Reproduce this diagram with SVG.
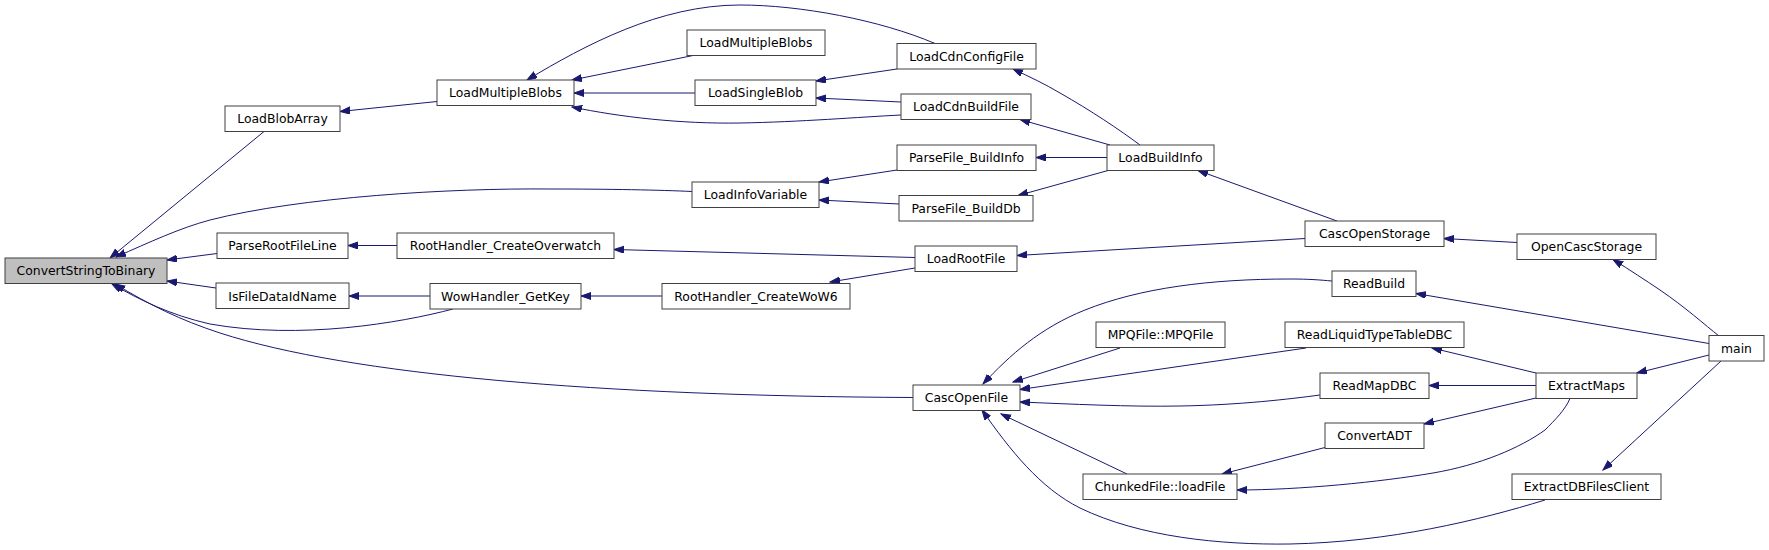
<svg xmlns="http://www.w3.org/2000/svg" width="1769" height="550" viewBox="0 0 1769 550">
<style>
.n rect{fill:#ffffff;stroke:#404040;stroke-width:1}
.n.f rect{fill:#bfbfbf}
.n text{font-family:"DejaVu Sans","Liberation Sans",sans-serif;font-size:12.4px;fill:#000;text-anchor:middle}
#edges path{fill:none;stroke:#191970;stroke-width:1;marker-start:url(#ah)}
</style>
<defs>
<marker id="ah" markerUnits="userSpaceOnUse" markerWidth="11" markerHeight="8" refX="10" refY="3.5" orient="auto-start-reverse" viewBox="0 0 11 8">
<path d="M0,0 L10,3.5 L0,7 z" fill="#191970" stroke="#191970" stroke-width="1"/>
</marker>
</defs>
<rect width="1769" height="550" fill="#ffffff"/>
<g id="edges">
<path d="M110,258 L264,131.5"/>
<path d="M116,257 C150,242 180,228 210,220 C300,197 450,188 550,189 C610,189 660,190 692,191.5"/>
<path d="M167,260 L217,253.5"/>
<path d="M167,281 L216,288"/>
<path d="M112,284 C140,300 170,315 210,324 C300,340 400,323 453,309"/>
<path d="M115,284 C150,305 180,320 220,333 C350,375 600,396 913,397.5"/>
<path d="M340,111.5 L437,101.5"/>
<path d="M572,80 L693,55.5"/>
<path d="M527,80 C585,45 660,5 740,5 C800,5 880,20 935,43.5"/>
<path d="M574,93 L695,93"/>
<path d="M572,107 C620,117 680,124 740,123 C800,122 860,117 901,115"/>
<path d="M816,81 L897,69"/>
<path d="M816,98 L901,102"/>
<path d="M819,182 L897,170"/>
<path d="M819,200 L899,204"/>
<path d="M1013,69 C1030,77 1045,84 1060,93 C1090,110 1120,130 1140,145"/>
<path d="M1020,119.5 L1110,145"/>
<path d="M1036,157.5 L1107,157.5"/>
<path d="M1018,195.5 L1108,170.5"/>
<path d="M614,249.5 L915,257.5"/>
<path d="M581,296 L662,296"/>
<path d="M349,296 L430,296"/>
<path d="M348,245.5 L397,245.5"/>
<path d="M830,282 L915,268"/>
<path d="M1198,170.5 L1337,221"/>
<path d="M1017,255.5 L1305,238.5"/>
<path d="M1444,238.5 L1517,242.5"/>
<path d="M1613,259.5 C1630,270 1645,280 1660,290 C1685,307 1705,325 1719,336"/>
<path d="M1416,293.5 L1709,343.5"/>
<path d="M983,384 C1010,355 1040,328 1085,310 C1140,288 1210,279 1290,279 C1310,279 1320,280 1332,281"/>
<path d="M1013,382 L1120,348"/>
<path d="M1020,389.5 L1306,348"/>
<path d="M1020,402 C1070,404 1130,407 1180,406 C1240,405 1290,399 1320,395"/>
<path d="M1001,414 L1127,474"/>
<path d="M982,410 C1010,450 1040,488 1080,508 C1140,537 1220,545 1290,544 C1390,542 1480,520 1545,500"/>
<path d="M1432,348 L1536,373"/>
<path d="M1429,385.5 L1536,385.5"/>
<path d="M1424,424 L1536,398"/>
<path d="M1222,474 L1325,447.5"/>
<path d="M1237,490 C1300,490 1380,482 1433,473 C1480,465 1520,448 1545,430 C1555,420 1565,410 1570,398.5"/>
<path d="M1637,373 L1709,355"/>
<path d="M1603,470 L1721,361"/>
</g>
<g id="n_ConvertStringToBinary" class="n f"><rect x="5" y="258" width="162" height="25.5"/><text x="86" y="275">ConvertStringToBinary</text></g>
<g id="n_LoadBlobArray" class="n"><rect x="225" y="106" width="115" height="25.5"/><text x="282.5" y="123">LoadBlobArray</text></g>
<g id="n_ParseRootFileLine" class="n"><rect x="217" y="233" width="131" height="25.5"/><text x="282.5" y="250">ParseRootFileLine</text></g>
<g id="n_IsFileDataIdName" class="n"><rect x="216" y="283" width="133" height="25.5"/><text x="282.5" y="300.5">IsFileDataIdName</text></g>
<g id="n_RootHandler_CreateOverwatch" class="n"><rect x="397" y="233" width="217" height="25.5"/><text x="505.5" y="250">RootHandler_CreateOverwatch</text></g>
<g id="n_WowHandler_GetKey" class="n"><rect x="430" y="283.5" width="151" height="25.5"/><text x="505.5" y="300.5">WowHandler_GetKey</text></g>
<g id="n_LoadMultipleBlobs" class="n"><rect x="437" y="80" width="137" height="25.5"/><text x="505.5" y="97">LoadMultipleBlobs</text></g>
<g id="n_LoadMultipleBlobs2" class="n"><rect x="687" y="30" width="138" height="25.5"/><text x="756" y="47">LoadMultipleBlobs</text></g>
<g id="n_LoadSingleBlob" class="n"><rect x="695" y="80" width="121" height="25.5"/><text x="755.5" y="97">LoadSingleBlob</text></g>
<g id="n_LoadInfoVariable" class="n"><rect x="692" y="182" width="127" height="25.5"/><text x="755.5" y="199">LoadInfoVariable</text></g>
<g id="n_RootHandler_CreateWoW6" class="n"><rect x="662" y="283.5" width="188" height="25.5"/><text x="756" y="300.5">RootHandler_CreateWoW6</text></g>
<g id="n_LoadCdnConfigFile" class="n"><rect x="897" y="43.5" width="139" height="25.5"/><text x="966.5" y="60.5">LoadCdnConfigFile</text></g>
<g id="n_LoadCdnBuildFile" class="n"><rect x="901" y="94" width="130" height="25.5"/><text x="966" y="111">LoadCdnBuildFile</text></g>
<g id="n_ParseFile_BuildInfo" class="n"><rect x="897" y="145" width="139" height="25.5"/><text x="966.5" y="162">ParseFile_BuildInfo</text></g>
<g id="n_ParseFile_BuildDb" class="n"><rect x="899" y="195.5" width="134" height="25.5"/><text x="966" y="212.5">ParseFile_BuildDb</text></g>
<g id="n_LoadBuildInfo" class="n"><rect x="1107" y="145" width="107" height="25.5"/><text x="1160.5" y="162">LoadBuildInfo</text></g>
<g id="n_LoadRootFile" class="n"><rect x="915" y="246" width="102" height="25.5"/><text x="966" y="263">LoadRootFile</text></g>
<g id="n_CascOpenFile" class="n"><rect x="913" y="385" width="107" height="25.5"/><text x="966.5" y="402">CascOpenFile</text></g>
<g id="n_MPQFile" class="n"><rect x="1096" y="322" width="129" height="25.5"/><text x="1160.5" y="339">MPQFile::MPQFile</text></g>
<g id="n_ChunkedFile_loadFile" class="n"><rect x="1083" y="474" width="154" height="25.5"/><text x="1160" y="491">ChunkedFile::loadFile</text></g>
<g id="n_CascOpenStorage" class="n"><rect x="1305" y="221" width="139" height="25.5"/><text x="1374.5" y="238">CascOpenStorage</text></g>
<g id="n_OpenCascStorage" class="n"><rect x="1517" y="234" width="139" height="25.5"/><text x="1586.5" y="251">OpenCascStorage</text></g>
<g id="n_ReadBuild" class="n"><rect x="1332" y="271" width="84" height="25.5"/><text x="1374" y="288">ReadBuild</text></g>
<g id="n_ReadLiquidTypeTableDBC" class="n"><rect x="1285" y="322" width="179" height="25.5"/><text x="1374.5" y="339">ReadLiquidTypeTableDBC</text></g>
<g id="n_main" class="n"><rect x="1709" y="335.5" width="55" height="25.5"/><text x="1736.5" y="352.5">main</text></g>
<g id="n_ReadMapDBC" class="n"><rect x="1320" y="373" width="109" height="25.5"/><text x="1374.5" y="390">ReadMapDBC</text></g>
<g id="n_ExtractMaps" class="n"><rect x="1536" y="373" width="101" height="25.5"/><text x="1586.5" y="390">ExtractMaps</text></g>
<g id="n_ConvertADT" class="n"><rect x="1325" y="423" width="99" height="25.5"/><text x="1374.5" y="440">ConvertADT</text></g>
<g id="n_ExtractDBFilesClient" class="n"><rect x="1512" y="474" width="149" height="25.5"/><text x="1586.5" y="491">ExtractDBFilesClient</text></g>
</svg>
